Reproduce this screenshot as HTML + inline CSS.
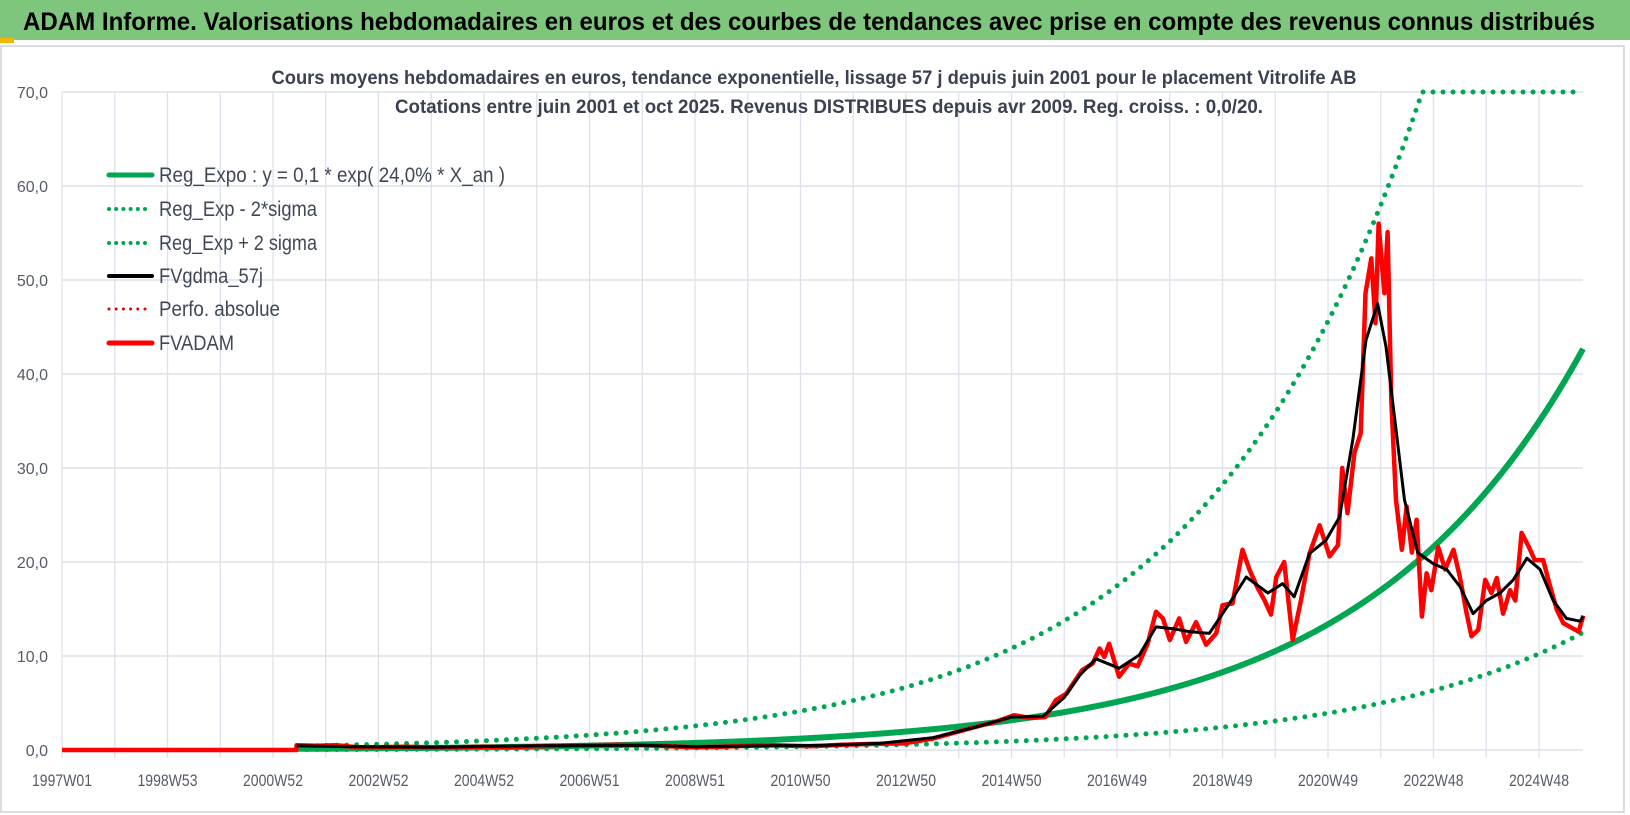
<!DOCTYPE html>
<html><head><meta charset="utf-8"><style>
html,body{margin:0;padding:0;background:#fff;}
svg{display:block;font-family:"Liberation Sans Narrow","Liberation Sans",sans-serif;}
</style></head><body>
<svg id="chart" width="1630" height="815" viewBox="0 0 1630 815">
  <rect x="0" y="0" width="1630" height="815" fill="#fff"/>
  <rect x="0" y="0" width="1630" height="40" fill="#7dc67c"/>
  <rect x="0" y="38" width="14" height="5" fill="#f2b600"/>
  <text x="23" y="30" font-size="25" font-weight="bold" fill="#000" textLength="1572" lengthAdjust="spacingAndGlyphs">ADAM Informe. Valorisations hebdomadaires en euros et des courbes de tendances avec prise en compte des revenus connus distribués</text>
  <rect x="1" y="46" width="1623" height="766" fill="none" stroke="#d0d0d0" stroke-width="1.5"/>
  <g id="grid"></g>
  <g id="yaxis"></g>
  <g id="xaxis"></g>
  <text x="814" y="84" font-size="19" font-weight="bold" fill="#3b4150" text-anchor="middle" textLength="1085" lengthAdjust="spacingAndGlyphs">Cours moyens hebdomadaires en euros, tendance exponentielle, lissage 57 j depuis juin 2001 pour le placement Vitrolife AB</text>
  <text x="829" y="113" font-size="19" font-weight="bold" fill="#3b4150" text-anchor="middle" textLength="868" lengthAdjust="spacingAndGlyphs">Cotations entre juin 2001 et oct 2025. Revenus DISTRIBUES depuis avr 2009. Reg. croiss. : 0,0/20.</text>
  <g id="series"></g>
  <g id="legend"></g>
</svg>
<script>
// ---- data ----
const yTicks = [0,10,20,30,40,50,60,70];
const yTickLabels = ["0,0","10,0","20,0","30,0","40,0","50,0","60,0","70,0"];
const xTickYears = [1997,1999,2001,2003,2005,2007,2009,2011,2013,2015,2017,2019,2021,2023,2025];
const xTickLabels = ["1997W01","1998W53","2000W52","2002W52","2004W52","2006W51","2008W51","2010W50","2012W50","2014W50","2016W49","2018W49","2020W49","2022W48","2024W48"];
const regParams = [0.1, 0.24, 2000.6]; // a, rate, origin year
const sigmaFactor = [0.293, 3.41];
const regStartEnd = [2001.45, 2025.84];
const capValue = [70];
const redT = [1997,2001.44,2001.45,2001.8,2002.2,2002.6,2003.0,2003.5,2004.0,2004.5,2005.0,2005.5,2006.0,2006.5,2007.0,2007.5,2008.0,2008.5,2009.0,2009.5,2010.0,2010.5,2011.18,2011.8,2012.4,2012.96,2013.5,2013.96,2014.35,2014.7,2015.05,2015.35,2015.64,2015.84,2016.04,2016.34,2016.54,2016.67,2016.76,2016.85,2017.04,2017.23,2017.39,2017.58,2017.74,2017.87,2018.0,2018.18,2018.31,2018.5,2018.69,2018.88,2019.0,2019.19,2019.38,2019.51,2019.67,2019.79,2019.92,2020.02,2020.17,2020.33,2020.49,2020.65,2020.84,2021.03,2021.19,2021.27,2021.37,2021.5,2021.62,2021.71,2021.82,2021.9,2021.96,2022.07,2022.13,2022.2,2022.29,2022.4,2022.49,2022.59,2022.68,2022.78,2022.87,2022.96,2023.09,2023.22,2023.38,2023.5,2023.63,2023.72,2023.85,2023.98,2024.1,2024.2,2024.32,2024.45,2024.55,2024.67,2024.8,2024.92,2025.08,2025.21,2025.34,2025.46,2025.62,2025.75,2025.84];
const redV = [0,0,0.5,0.45,0.5,0.3,0.3,0.35,0.3,0.3,0.35,0.3,0.4,0.45,0.5,0.55,0.5,0.4,0.3,0.35,0.45,0.5,0.4,0.55,0.65,0.7,1.2,1.9,2.5,3.0,3.7,3.4,3.5,5.3,6.0,8.5,9.2,10.8,9.9,11.3,7.8,9.2,8.9,11.3,14.7,14.0,11.7,14.0,11.5,13.6,11.2,12.4,15.4,15.6,21.3,19.2,17.2,16.0,14.4,18.4,20.0,11.7,16.0,20.9,23.9,20.6,21.8,30.0,25.2,31.6,33.7,48.6,52.3,45.4,56.0,48.6,55.1,37.2,26.6,21.3,25.9,21.0,24.5,14.2,18.8,17.0,21.6,19.2,21.3,18.4,14.5,12.1,12.8,18.1,16.7,18.3,14.5,17.0,15.9,23.1,21.7,20.2,20.2,17.4,14.9,13.5,13.0,12.6,14.3];
const blackT = [2001.45,2002.5,2004.0,2006.0,2008.0,2009.0,2010.5,2011.5,2012.5,2013.5,2014.3,2015.0,2015.6,2016.0,2016.3,2016.6,2017.04,2017.42,2017.74,2018.06,2018.37,2018.75,2019.13,2019.45,2019.86,2020.14,2020.36,2020.65,2020.96,2021.22,2021.47,2021.72,2021.94,2022.1,2022.29,2022.45,2022.7,2023.0,2023.25,2023.5,2023.75,2024.0,2024.26,2024.51,2024.77,2025.02,2025.27,2025.52,2025.78,2025.84];
const blackV = [0.45,0.35,0.3,0.45,0.5,0.35,0.45,0.5,0.7,1.3,2.4,3.5,3.6,5.6,8.0,9.7,8.7,10.1,13.1,12.9,12.6,12.4,15.6,18.4,16.7,17.7,16.3,20.9,22.3,24.8,33.0,43.6,47.5,42.9,34.1,26.6,21.0,19.8,19.2,17.4,14.5,15.9,16.7,18.1,20.4,19.2,15.9,14.0,13.7,14.2];

// ---- axes ----
const X0=62, PXYR=52.75, Y0=750, PXU=9.4, XR=1583;
const xs = t => X0 + (t-1997)*PXYR;
const ys = v => Y0 - v*PXU;
const NS='http://www.w3.org/2000/svg';
function mk(tag, attrs, parent){const e=document.createElementNS(NS,tag);for(const k in attrs)e.setAttribute(k,attrs[k]);parent.appendChild(e);return e;}
const grid=document.getElementById('grid'), yax=document.getElementById('yaxis'), xax=document.getElementById('xaxis'), ser=document.getElementById('series'), leg=document.getElementById('legend');

for(let yr=1997; yr<=2025; yr++){
  const l=mk('line',{x1:xs(yr),x2:xs(yr),y1:ys(70),y2:Y0+8,stroke:'#dde1ea','stroke-width':1.3},grid);
  
  
}
yTicks.forEach((v,i)=>{
  const l=mk('line',{x1:X0,x2:XR,y1:ys(v),y2:ys(v),stroke:'#dde1ea','stroke-width':1.5},grid);
  
  
  const t=mk('text',{x:48,y:ys(v)+6,'font-size':16,fill:'#555b66','text-anchor':'end'},yax);
  t.textContent=yTickLabels[i];
  
  
});
xTickYears.forEach((yr,i)=>{
  const t=mk('text',{x:xs(yr),y:786,'font-size':17,fill:'#555b66','text-anchor':'middle',textLength:60,lengthAdjust:'spacingAndGlyphs'},xax);
  t.textContent=xTickLabels[i];
  
  
});

// ---- series ----
function pathFrom(T,V){return T.map((t,i)=>(i?'L':'M')+xs(t).toFixed(1)+','+ys(V[i]).toFixed(1)).join('');}
const regT=[],regV=[],loV=[],hiV=[];
for(let t=regStartEnd[0]; t<=regStartEnd[1]+1e-6; t+=1/52){
  const r=regParams[0]*Math.exp(regParams[1]*(t-regParams[2]));
  regT.push(t); regV.push(r); loV.push(r*sigmaFactor[0]); hiV.push(Math.min(capValue[0], r*sigmaFactor[1]));
}
const hi=mk('path',{d:pathFrom(regT,hiV),fill:'none',stroke:'#00a651','stroke-width':5,'stroke-linecap':'round','stroke-dasharray':'0 10'},ser);


const lo=mk('path',{d:pathFrom(regT,loV),fill:'none',stroke:'#00a651','stroke-width':5,'stroke-linecap':'round','stroke-dasharray':'0 10'},ser);


const rg=mk('path',{d:pathFrom(regT,regV),fill:'none',stroke:'#00a651','stroke-width':6,'stroke-linejoin':'round'},ser);


const rd=mk('path',{d:pathFrom(redT,redV),fill:'none',stroke:'#ff0000','stroke-width':4.5,'stroke-linejoin':'round'},ser);


const bk=mk('path',{d:pathFrom(blackT,blackV),fill:'none',stroke:'#000','stroke-width':3,'stroke-linejoin':'round'},ser);



// ---- legend ----
const legRows=[
 ['Reg_Expo : y = 0,1 * exp( 24,0% *  X_an )','#00a651',false,5,'legend-reg-expo',346],
 ['Reg_Exp - 2*sigma','#00a651',true,4,'legend-reg-exp-minus',158],
 ['Reg_Exp + 2 sigma','#00a651',true,4,'legend-reg-exp-plus',158],
 ['FVgdma_57j','#000',false,4,'legend-fvgdma',104],
 ['Perfo. absolue','#e00000',true,3,'legend-perfo-absolue',121],
 ['FVADAM','#ff0000',false,5,'legend-fvadam',75]
];
const legY=[175,209,243,276,309,343];
legRows.forEach((r,i)=>{
  const g=mk('g',{},leg);
  
  
  const a={x1:109,x2:152,y1:legY[i],y2:legY[i],stroke:r[1],'stroke-width':r[3],'stroke-linecap':'round'};
  if(r[2]) a['stroke-dasharray']='0 7.2';
  mk('line',a,g);
  const t=mk('text',{x:159,y:legY[i]+7,'font-size':21,fill:'#404756',textLength:r[5],lengthAdjust:'spacingAndGlyphs'},g);
  t.textContent=r[0];
});
</script>
</body></html>
